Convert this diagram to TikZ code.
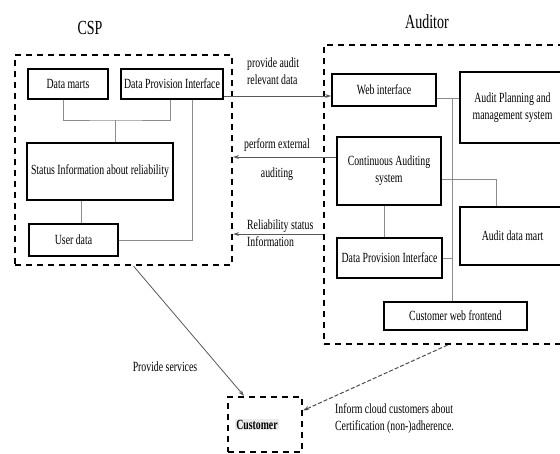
\documentclass[tikz,border=0pt]{standalone}
\usepackage{fontspec}
\setmainfont{Liberation Serif}[FakeStretch=0.7]
\usetikzlibrary{arrows.meta}

\tikzstyle{sysbox}=[rectangle,
                    draw,
                    line width=1.8pt,
                    fill=white,
                    inner sep=0pt,
                    align=center]
\tikzstyle{groupbox}=[rectangle,
                      draw,
                      line width=2.2pt,
                      dash pattern=on 6pt off 5pt,
                      inner sep=0pt]
\tikzstyle{link}=[draw=black!45, line width=0.7pt]
\tikzstyle{flow}=[draw=black!65, line width=0.8pt, -{Stealth[length=6pt,width=4pt]}]
\tikzstyle{lbl}=[inner sep=0pt, align=left]

\begin{document}
\begin{tikzpicture}[x=1pt, y=-1pt, font=\fontsize{14}{17}\selectfont]
    \clip (0,0) rectangle (560,454);

    % the two parties
    \node [groupbox, minimum width=217pt, minimum height=210pt] (csp) at (123.5,160) {};
    \node [groupbox, minimum width=251pt, minimum height=299pt] (aud) at (449.5,194.5) {};
    \node [font=\fontsize{20}{24}\selectfont] (csptitle) at (90,28) {CSP};
    \node [font=\fontsize{20}{24}\selectfont] (audtitle) at (427,22) {Auditor};

    % CSP side
    \node [sysbox, minimum width=80pt, minimum height=30pt] (dmarts) at (68,84) {Data marts};
    \node [sysbox, minimum width=102pt, minimum height=30pt] (cdpi) at (172,84) {Data Provision Interface};
    \node [sysbox, minimum width=146pt, minimum height=57pt] (status) at (100,171.5) {Status Information about reliability};
    \node [sysbox, minimum width=89pt, minimum height=32pt] (udata) at (73.5,240) {User data};

    \coordinate (cjoin) at (115,120);
    \draw [link] ([xshift=-5pt]dmarts.south) |- (cjoin) -| ([xshift=-2pt]cdpi.south);
    \draw [link] (cjoin) -- (cjoin |- status.north);
    \draw [link] ([xshift=8pt]udata.north) -- ([xshift=8pt]udata.north |- status.south);
    \draw [link] ([xshift=20pt]cdpi.south) |- (udata.east);

    % Auditor side
    \node [sysbox, minimum width=104pt, minimum height=32pt] (web) at (384,90) {Web interface};
    \node [sysbox, minimum width=105pt, minimum height=71pt] (plan) at (512.5,107.5) {Audit Planning and\\management system};
    \node [sysbox, minimum width=104pt, minimum height=68pt] (cas) at (389,171) {Continuous Auditing\\system};
    \node [sysbox, minimum width=105pt, minimum height=58pt] (mart) at (512.5,236) {Audit data mart};
    \node [sysbox, minimum width=105pt, minimum height=40pt] (adpi) at (389.5,258) {Data Provision Interface};
    \node [sysbox, minimum width=143pt, minimum height=28pt] (cweb) at (455.5,316) {Customer web frontend};

    \coordinate (bus) at (452,98);
    \draw [link] ([yshift=-8pt]web.east) -- ([yshift=-8pt]web.east -| plan.west);
    \draw [link] (bus) -- (bus |- cweb.north);
    \draw [link] (adpi.east) -- (adpi.east -| bus);
    \draw [link] ([yshift=-8pt]cas.east) -| ([xshift=-16pt]mart.north);
    \draw [link] ([xshift=-5pt]cas.south) -- ([xshift=-5pt]cas.south |- adpi.north);

    % customer
    \node [groupbox, minimum width=74pt, minimum height=55pt] (cust) at (265,424.5) {};
    \node [font=\fontsize{14}{17}\selectfont\bfseries, fill=black!8, inner sep=1pt] (custlbl) at ([xshift=-8pt]cust.center) {Customer};

    % flows between the parties
    \coordinate (rel) at ([yshift=3pt]adpi.north);
    \draw [flow] ([yshift=-12pt]cdpi.east) -- ([yshift=-12pt]cdpi.east -| web.west);
    \draw [flow] ([yshift=14pt]cas.west) -- ([yshift=14pt]cas.west -| csp.east);
    \draw [flow] (rel -| aud.west) -- (rel -| csp.east);
    \draw [flow] ([xshift=10pt]csp.south) -- ([xshift=-21pt]cust.north);
    \draw [flow, draw=black!70, line width=1pt, dash pattern=on 4pt off 2pt] ([xshift=-2pt]aud.south) -- ([yshift=14pt]cust.east);

    \node [lbl, anchor=west] (provlbl) at (247,71) {provide audit\\relevant data};
    \node [lbl, align=center] (perflbl) at (277,160) {perform external\\[12pt]auditing};
    \node [lbl, anchor=west] (rellbl) at (247,233.5) {Reliability status\\Information};
    \node [lbl] (servlbl) at (165,367) {Provide services};
    \node [lbl, anchor=west] (infolbl) at (335,418.5) {Inform cloud customers about\\Certification (non-)adherence.};
\end{tikzpicture}
\end{document}
